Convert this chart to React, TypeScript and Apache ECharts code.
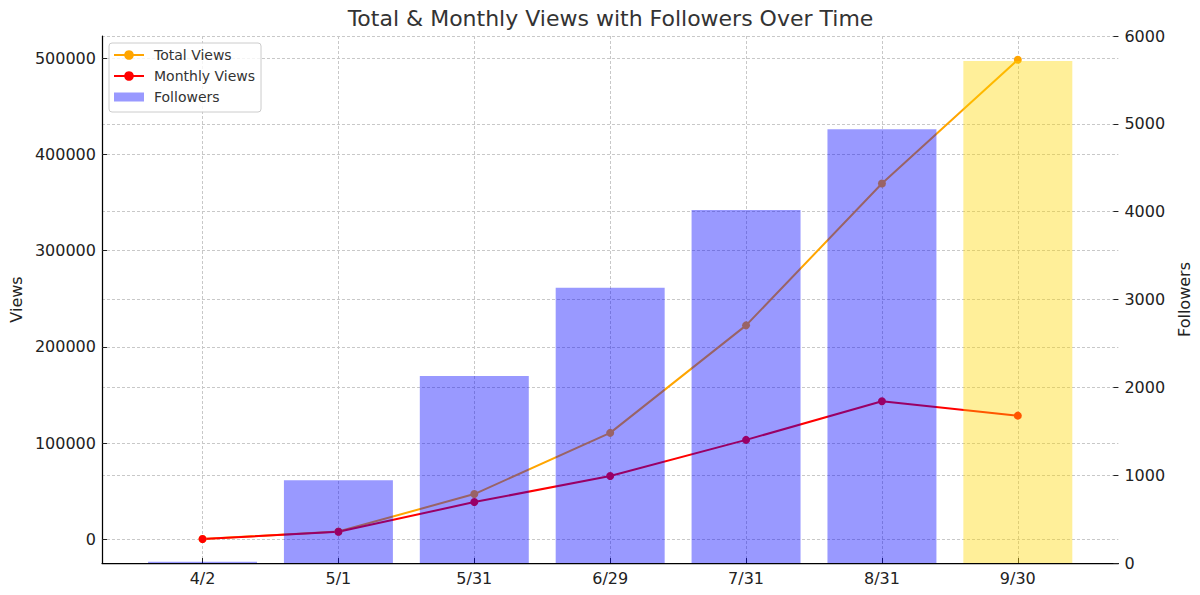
import React, { useEffect, useRef } from "react";
import * as echarts from "echarts";

const categories = ["4/2", "5/1", "5/31", "6/29", "7/31", "8/31", "9/30"];
const totalViews = [400, 8200, 47100, 110700, 222400, 369700, 498300];
const monthlyViews = [400, 7900, 38800, 65800, 103400, 143600, 128600];
const followers = [15, 941, 2130, 3134, 4019, 4938, 5716];
const highlightIndex = 6;
const viewTicks = [0, 100000, 200000, 300000, 400000, 500000];
const followerTicks = [0, 1000, 2000, 3000, 4000, 5000, 6000];
const categoryTicks = [0, 1, 2, 3, 4, 5, 6];

const FONT = "DejaVu Sans";
const GRID = { left: 101, right: 80, top: 36, bottom: 32 };
const X_MIN = -0.74;
const X_MAX = 6.74;
const PLOT_W = 1200 - GRID.left - GRID.right;

const gridLine = { show: true, lineStyle: { color: "#c8c8c8", type: [3, 2] as any, width: 1 } };
const tick = { show: true, inside: true, length: 5, lineStyle: { color: "#222", width: 1 } };
const labelStyle = { fontFamily: FONT, fontSize: 16, color: "#222" };

export default function App() {
  const ref = useRef<HTMLDivElement>(null);
  useEffect(() => {
    if (!ref.current) return;
    const chart = echarts.init(ref.current, undefined, { renderer: "svg" });
    const barWidth = (0.8 * PLOT_W) / (X_MAX - X_MIN);
    chart.setOption({
      animation: false,
      backgroundColor: "#ffffff",
      title: {
        text: "Total & Monthly Views with Followers Over Time",
        left: GRID.left + PLOT_W / 2,
        textAlign: "center",
        top: 7,
        padding: 0,
        textStyle: { fontFamily: FONT, fontSize: 22, fontWeight: "normal", color: "#333" },
      },
      legend: {
        left: 109,
        top: 43,
        orient: "vertical",
        itemWidth: 30,
        itemHeight: 12,
        itemGap: 7,
        padding: [5, 6, 8, 4],
        borderColor: "#cccccc",
        borderWidth: 1,
        borderRadius: 3,
        backgroundColor: "rgba(255,255,255,0.8)",
        textStyle: { fontFamily: FONT, fontSize: 14, color: "#333", padding: [0, 0, 0, 5] },
        data: [
          { name: "Total Views" },
          { name: "Monthly Views" },
          { name: "Followers", icon: "path://M0,0M0,1.5L30,1.5L30,10.5L0,10.5ZM30,12" },
        ],
      },
      grid: { ...GRID, containLabel: false },
      xAxis: {
        type: "value",
        min: X_MIN,
        max: X_MAX,
        axisLine: { show: true, onZero: false, lineStyle: { color: "#000", width: 1.25 } },
        axisTick: { ...tick, customValues: categoryTicks },
        axisLabel: {
          ...labelStyle,
          margin: 7,
          customValues: categoryTicks,
          formatter: (v: number) => categories[Math.round(v)] ?? "",
        },
        splitLine: gridLine,
      },
      yAxis: [
        {
          type: "value",
          position: "left",
          min: -24500,
          max: 523000,
          name: "Views",
          nameLocation: "middle",
          nameRotate: 90,
          nameGap: 75,
          nameTextStyle: { fontFamily: FONT, fontSize: 16, color: "#222" },
          axisLine: { show: true, onZero: false, lineStyle: { color: "#000", width: 1.25 } },
          axisTick: { ...tick, customValues: viewTicks },
          axisLabel: { ...labelStyle, margin: 6, customValues: viewTicks, formatter: (v: number) => String(v) },
          splitLine: gridLine,
        },
        {
          type: "value",
          position: "right",
          min: 0,
          max: 6000,
          name: "Followers",
          nameLocation: "middle",
          nameRotate: 90,
          nameGap: 52,
          nameTextStyle: { fontFamily: FONT, fontSize: 16, color: "#222" },
          axisLine: { show: false, onZero: false },
          axisTick: { ...tick, customValues: followerTicks },
          axisLabel: { ...labelStyle, margin: 6, customValues: followerTicks, formatter: (v: number) => String(v) },
          splitLine: gridLine,
        },
      ],
      series: [
        {
          name: "Total Views",
          type: "line",
          yAxisIndex: 0,
          z: 2,
          data: totalViews.map((v, i) => [i, v]),
          symbol: "circle",
          symbolSize: 8,
          color: "#FFA500",
          lineStyle: { color: "#FFA500", width: 2 },
          itemStyle: { color: "#FFA500" },
        },
        {
          name: "Monthly Views",
          type: "line",
          yAxisIndex: 0,
          z: 2,
          data: monthlyViews.map((v, i) => [i, v]),
          symbol: "circle",
          symbolSize: 8,
          color: "#FF0000",
          lineStyle: { color: "#FF0000", width: 2 },
          itemStyle: { color: "#FF0000" },
        },
        {
          name: "Followers",
          type: "bar",
          yAxisIndex: 1,
          z: 3,
          clip: false,
          barWidth,
          color: "rgba(0,0,255,0.4)",
          itemStyle: { color: "rgba(0,0,255,0.4)" },
          data: followers.map((v, i) =>
            i === highlightIndex
              ? { value: [i, v], itemStyle: { color: "rgba(255,215,0,0.4)" } }
              : { value: [i, v] }
          ),
        },
      ],
    });
    return () => chart.dispose();
  }, []);
  return (
    <div
      ref={ref}
      style={{ position: "absolute", left: 0, top: 0, width: 1200, height: 595 }}
    />
  );
}
